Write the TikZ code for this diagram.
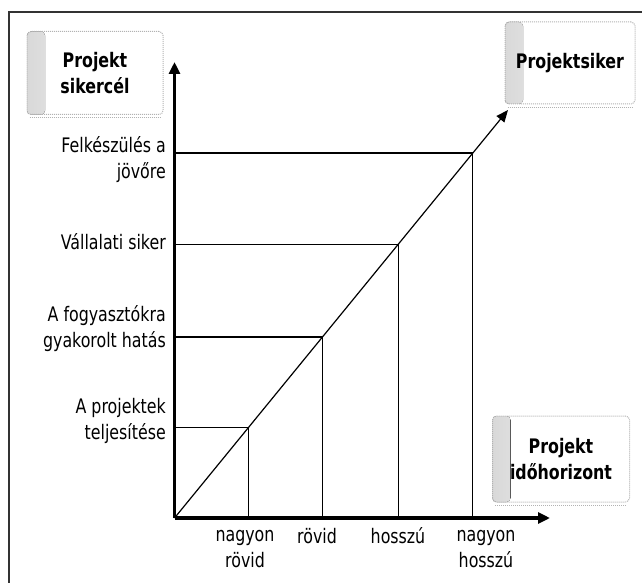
\documentclass[tikz,border=0pt]{standalone}
\usepackage{fontspec}
\setmainfont{DejaVu Sans Condensed}[FakeStretch=0.88]
\usetikzlibrary{arrows.meta}

\begin{document}
\begin{tikzpicture}[x=1pt, y=-1pt, font=\fontsize{20}{26}\selectfont]

        % Setup the styles
        \tikzset{axis style/.style={line width=3.8pt, -{Triangle[length=12pt, width=11pt]}},
                 grid thin/.style={line width=0.8pt},
                 grid thick/.style={line width=1.4pt},
                 level label/.style={anchor=east, align=right, inner sep=0pt},
                 time label/.style={align=center, inner sep=0pt},
                 box style/.style={draw=gray!60, densely dotted, line width=1pt,
                                   rounded corners=4pt, align=center, inner sep=0pt,
                                   font=\fontsize{20}{26}\selectfont\bfseries,
                                   path picture={\fill[left color=gray!30, right color=white]
                                       (path picture bounding box.south west) rectangle
                                       ([xshift=18pt]path picture bounding box.north west);}}}

        \useasboundingbox (0, 0) rectangle (642, 583);

        % Frame
        \draw[gray!40!black, line width=1.3pt] (9, 583) |- (642, 12);

        % Axes
        \coordinate (O)  at (174.5, 518);
        \coordinate (Y)  at (174.5, 62);
        \coordinate (X)  at (550, 518);
        \coordinate (D)  at (508, 110);

        % Points on the diagonal
        \coordinate (p1) at (248.5, 427);
        \coordinate (p2) at (322.5, 337);
        \coordinate (p3) at (398, 244);
        \coordinate (p4) at (472.5, 153);

        \draw[grid thin]  (O |- p1) -- (p1) -- (p1 |- O);
        \draw[grid thick] (O |- p2) -- (p2) -- (p2 |- O);
        \draw[grid thin]  (O |- p3) -- (p3) -- (p3 |- O);
        \draw[grid thick] (O |- p4) -- (p4) -- (p4 |- O);

        \draw[line width=1.2pt, -{Triangle[length=12pt, width=10pt]}] (O) -- (D);
        \draw[axis style] (O) -- (Y);
        \draw[axis style] (O) -- (X);

        % Labels of the levels
        \node[level label] at (166, 160) (L4) {Felkészülés a\\jövőre};
        \node[level label] at (166, 242) (L3) {Vállalati siker};
        \node[level label] at (166, 329) (L2) {A fogyasztókra\\gyakorolt hatás};
        \node[level label] at (166, 421) (L1) {A projektek\\teljesítése};

        % Labels of the time horizon
        \node[time label] at (245, 549) (T1) {nagyon\\rövid};
        \node[time label] at (317, 536) (T2) {rövid};
        \node[time label] at (398, 536) (T3) {hosszú};
        \node[time label] at (486, 549) (T4) {nagyon\\hosszú};

        % Boxes
        \node[box style, minimum width=136pt, minimum height=83pt]
                            at (95, 73)    (goal)    {Projekt\\sikercél};
        \node[box style, minimum width=130pt, minimum height=82pt]
                            at (570, 63)   (success) {Projektsiker};
        \node[box style, minimum width=137pt, minimum height=86pt]
                            at (561, 459)  (horizon) {Projekt\\időhorizont};

        % Shadow edges of the boxes
        \foreach \b in {goal, success, horizon}
            \draw[gray!60, densely dotted, line width=1pt]
                ([xshift=3pt, yshift=-3pt]\b.south west) -- ([xshift=-3pt, yshift=-3pt]\b.south east);

\end{tikzpicture}
\end{document}
